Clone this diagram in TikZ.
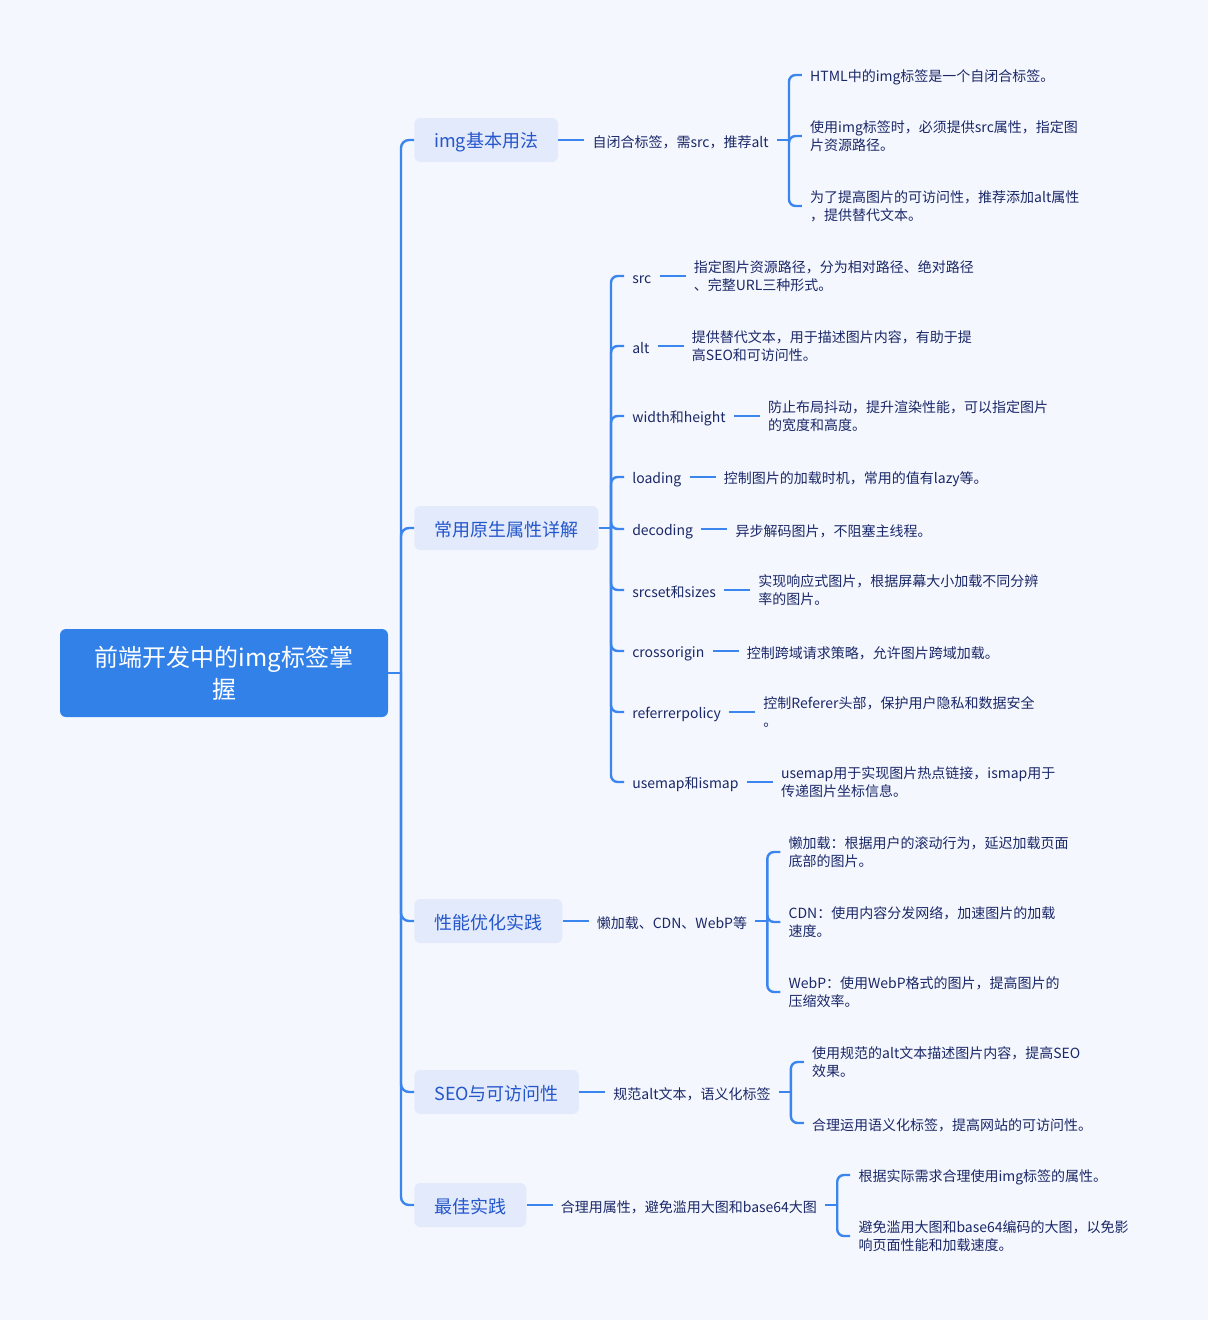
\documentclass[tikz,border=0pt]{standalone}
\usepackage{fontspec}
\setmainfont{Noto Sans CJK SC}
\usepackage{xcolor}
\usepackage{tikz}
\usetikzlibrary{positioning}

\definecolor{bgcol}{HTML}{F5F7FE}
\definecolor{rootcol}{HTML}{3181E9}
\definecolor{linecol}{HTML}{3A86EE}
\definecolor{boxcol}{HTML}{E2EAFC}
\definecolor{boxtext}{HTML}{2456CC}
\definecolor{leaftext}{HTML}{1A2868}

\tikzset{
  rootbox/.style={fill=rootcol, text=white, rounded corners=4.5pt, minimum width=246pt,
    minimum height=66pt, align=center, font=\fontsize{18}{24}\selectfont},
  branchbox/.style={fill=boxcol, text=boxtext, rounded corners=4.5pt, minimum height=33pt,
    inner xsep=15pt, anchor=west, font=\fontsize{13.5}{18}\selectfont,
    execute at begin node=\rule[-0.12em]{0pt}{1.22em}},
  sub/.style={text=leaftext, inner xsep=6pt, inner ysep=2pt, anchor=west, align=left,
    font=\fontsize{10.5}{13.5}\selectfont, execute at begin node=\rule[-0.12em]{0pt}{1.32em}},
  conn/.style={draw=linecol, line width=1.8pt},
}

\begin{document}
\begin{tikzpicture}[x=0.75pt, y=-0.75pt]
  \fill[bgcol] (0,0) rectangle (1208,1320);
  \useasboundingbox (0,0) rectangle (1208,1320);

  \node[rootbox] (root) at (224,673) {前端开发中的img标签掌\\握};
  \coordinate (trunk) at (401,673);
  \draw[conn] (root.east) -- (trunk);

  \node[branchbox] (b1) at (414,140) {img基本用法};
  \node[branchbox] (b2) at (414,528) {常用原生属性详解};
  \node[branchbox] (b3) at (414,921) {性能优化实践};
  \node[branchbox] (b4) at (414,1092) {SEO与可访问性};
  \node[branchbox] (b5) at (414,1205) {最佳实践};

  \foreach \b in {b1,b2,b3,b4,b5}
    \draw[conn, rounded corners=6pt] (trunk) |- (\b.west);

  \node[sub, right=19.5pt of b1] (l1) {自闭合标签，需src，推荐alt};
  \node[sub, right=19.5pt of b3] (l3) {懒加载、CDN、WebP等};
  \node[sub, right=19.5pt of b4] (l4) {规范alt文本，语义化标签};
  \node[sub, right=19.5pt of b5] (l5) {合理用属性，避免滥用大图和base64大图};

  \foreach \l/\b in {l1/b1,l3/b3,l4/b4,l5/b5}{
    \draw[conn] (\b.east) -- (\l.west);
    \path (\l.east) ++(12,0) coordinate (j\l);
    \draw[conn] (\l.east) -- (j\l);
  }

  \path (jl1) ++(13,-65) node[sub] (l1a) {HTML中的img标签是一个自闭合标签。};
  \path (jl1) ++(13,-4) node[sub] (l1b) {使用img标签时，必须提供src属性，指定图\\片资源路径。};
  \path (jl1) ++(13,66) node[sub] (l1c) {为了提高图片的可访问性，推荐添加alt属性\\，提供替代文本。};

  \path (jl3) ++(13,-69) node[sub] (l3a) {懒加载：根据用户的滚动行为，延迟加载页面\\底部的图片。};
  \path (jl3) ++(13,1) node[sub] (l3b) {CDN：使用内容分发网络，加速图片的加载\\速度。};
  \path (jl3) ++(13,71) node[sub] (l3c) {WebP：使用WebP格式的图片，提高图片的\\压缩效率。};

  \path (jl4) ++(13,-30) node[sub] (l4a) {使用规范的alt文本描述图片内容，提高SEO\\效果。};
  \path (jl4) ++(13,31) node[sub] (l4b) {合理运用语义化标签，提高网站的可访问性。};

  \path (jl5) ++(13,-30) node[sub] (l5a) {根据实际需求合理使用img标签的属性。};
  \path (jl5) ++(13,31) node[sub] (l5b) {避免滥用大图和base64编码的大图，以免影\\响页面性能和加载速度。};

  \foreach \j/\n in {jl1/l1a,jl1/l1b,jl1/l1c,jl3/l3a,jl3/l3b,jl3/l3c,jl4/l4a,jl4/l4b,jl5/l5a,jl5/l5b}
    \draw[conn, rounded corners=5pt] (\j) |- (\n.west);

  \coordinate (j2) at (611,528);
  \draw[conn] (b2.east) -- (j2);
  \foreach \i/\y/\attr/\desc in {
    1/276/src/{指定图片资源路径，分为相对路径、绝对路径\\、完整URL三种形式。},
    2/346/alt/{提供替代文本，用于描述图片内容，有助于提\\高SEO和可访问性。},
    3/416/width和height/{防止布局抖动，提升渲染性能，可以指定图片\\的宽度和高度。},
    4/477/loading/{控制图片的加载时机，常用的值有lazy等。},
    5/529/decoding/{异步解码图片，不阻塞主线程。},
    6/590/srcset和sizes/{实现响应式图片，根据屏幕大小加载不同分辨\\率的图片。},
    7/651/crossorigin/{控制跨域请求策略，允许图片跨域加载。},
    8/712/referrerpolicy/{控制Referer头部，保护用户隐私和数据安全\\。},
    9/782/usemap和ismap/{usemap用于实现图片热点链接，ismap用于\\传递图片坐标信息。}}{
    \node[sub] (a\i) at (624,\y) {\attr};
    \node[sub, right=19.5pt of a\i] (d\i) {\desc};
    \draw[conn, rounded corners=5pt] (j2) |- (a\i.west);
    \draw[conn] (a\i.east) -- (d\i.west);
  }
\end{tikzpicture}
\end{document}
